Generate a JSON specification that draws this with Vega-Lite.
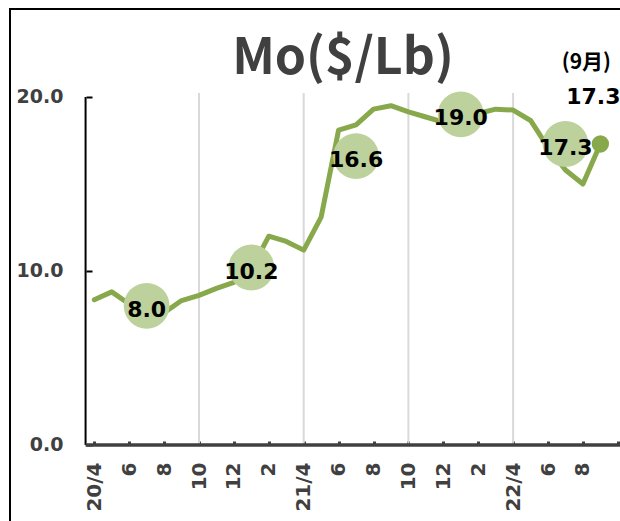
{
  "$schema": "https://vega.github.io/schema/vega-lite/v6.json",
  "width": 612,
  "height": 514,
  "autosize": {"type": "none"},
  "padding": {"left": 10, "top": 9, "right": -2, "bottom": -2},
  "background": "white",
  "title": {"text": "Mo($/Lb)", "font": "Noto Sans CJK JP", "fontSize": 50, "fontWeight": "bold", "color": "#404040", "anchor": "middle", "frame": "group", "offset": -68, "baseline": "alphabetic", "dx": 27, "dy": 47},
  "datasets": {
    "prices": [
      {"t": 0, "month": "2020-04", "price": 8.35},
      {"t": 1, "month": "2020-05", "price": 8.8},
      {"t": 2, "month": "2020-06", "price": 8.1},
      {"t": 3, "month": "2020-07", "price": 7.7, "avg": 8.0},
      {"t": 4, "month": "2020-08", "price": 7.6},
      {"t": 5, "month": "2020-09", "price": 8.3},
      {"t": 6, "month": "2020-10", "price": 8.6},
      {"t": 7, "month": "2020-11", "price": 9.0},
      {"t": 8, "month": "2020-12", "price": 9.35},
      {"t": 9, "month": "2021-01", "price": 10.1, "avg": 10.2},
      {"t": 10, "month": "2021-02", "price": 12.0},
      {"t": 11, "month": "2021-03", "price": 11.7},
      {"t": 12, "month": "2021-04", "price": 11.2},
      {"t": 13, "month": "2021-05", "price": 13.1},
      {"t": 14, "month": "2021-06", "price": 18.1},
      {"t": 15, "month": "2021-07", "price": 18.4, "avg": 16.6},
      {"t": 16, "month": "2021-08", "price": 19.3},
      {"t": 17, "month": "2021-09", "price": 19.5},
      {"t": 18, "month": "2021-10", "price": 19.15},
      {"t": 19, "month": "2021-11", "price": 18.85},
      {"t": 20, "month": "2021-12", "price": 18.55},
      {"t": 21, "month": "2022-01", "price": 18.8, "avg": 19.0},
      {"t": 22, "month": "2022-02", "price": 19.05},
      {"t": 23, "month": "2022-03", "price": 19.3},
      {"t": 24, "month": "2022-04", "price": 19.25},
      {"t": 25, "month": "2022-05", "price": 18.65},
      {"t": 26, "month": "2022-06", "price": 17.1},
      {"t": 27, "month": "2022-07", "price": 15.8, "avg": 17.3},
      {"t": 28, "month": "2022-08", "price": 15.0},
      {"t": 29, "month": "2022-09", "price": 17.3}
    ],
    "grid": [{"t": 6}, {"t": 12}, {"t": 18}, {"t": 24}],
    "axisline": [{"x0": -0.5, "x1": 31, "y0": 0, "y1": 20}]
  },
  "data": {"name": "prices"},
  "layer": [
    {
      "data": {"name": "grid"},
      "mark": {"type": "rule", "color": "#d9d9d9", "strokeWidth": 2},
      "encoding": {
        "x": {"field": "t", "type": "quantitative", "title": null},
        "y": {"datum": 0, "type": "quantitative", "title": null},
        "y2": {"datum": 20.23}
      }
    },
    {
      "mark": {"type": "line", "color": "#88a84c", "strokeWidth": 5, "strokeCap": "round", "strokeJoin": "round"},
      "encoding": {
        "x": {
          "field": "t", "type": "quantitative",
          "scale": {"domain": [-4.831, 30.24], "nice": false, "zero": false},
          "axis": {
            "orient": "bottom", "offset": -78, "title": null,
            "values": [0,1,2,3,4,5,6,7,8,9,10,11,12,13,14,15,16,17,18,19,20,21,22,23,24,25,26,27,28,29,30],
            "domain": false, "grid": false,
            "tickSize": -4, "tickWidth": 3, "tickColor": "#404040",
            "labelAngle": -90, "labelAlign": "right", "labelBaseline": "middle",
            "labelPadding": 21, "labelFont": "DejaVu Sans", "labelFontSize": 20, "labelFontWeight": "bold", "labelColor": "#404040",
            "labelFlush": false, "labelOverlap": false, "labelBound": false,
            "labelExpr": "datum.value % 2 == 0 && datum.value <= 28 ? (datum.value % 12 == 0 ? (20 + floor((datum.value + 3) / 12)) + '/4' : '' + ((datum.value + 3) % 12 + 1)) : ''"
          }
        },
        "y": {
          "field": "price", "type": "quantitative",
          "scale": {"domain": [-4.483, 25.057], "nice": false, "zero": false},
          "axis": {
            "offset": -76, "title": null, "values": [0, 10, 20],
            "domain": false, "grid": false,
            "tickSize": -6, "tickWidth": 2, "tickColor": "black",
            "format": ".1f", "labelPadding": 29,
            "labelFont": "DejaVu Sans", "labelFontSize": 19, "labelFontWeight": "bold", "labelColor": "#404040",
            "labelFlush": false, "labelOverlap": false
          }
        }
      }
    },
    {
      "transform": [{"filter": "isValid(datum.avg)"}],
      "mark": {"type": "point", "filled": true, "color": "#bcd19c", "size": 2100, "opacity": 1},
      "encoding": {
        "x": {"field": "t", "type": "quantitative", "title": null},
        "y": {"field": "avg", "type": "quantitative", "title": null}
      }
    },
    {
      "transform": [{"filter": "isValid(datum.avg)"}],
      "mark": {"type": "text", "font": "DejaVu Sans", "fontSize": 22, "fontWeight": "bold", "color": "black", "dy": 4},
      "encoding": {
        "x": {"field": "t", "type": "quantitative", "title": null},
        "y": {"field": "avg", "type": "quantitative", "title": null},
        "text": {"field": "avg", "type": "quantitative", "format": ".1f"}
      }
    },
    {
      "transform": [{"filter": "datum.t == 29"}],
      "mark": {"type": "point", "filled": true, "color": "#88a84c", "size": 300, "opacity": 1},
      "encoding": {
        "x": {"field": "t", "type": "quantitative", "title": null},
        "y": {"field": "price", "type": "quantitative", "title": null}
      }
    },
    {
      "transform": [{"filter": "datum.t == 29"}],
      "mark": {"type": "text", "font": "DejaVu Sans", "fontSize": 22, "fontWeight": "bold", "color": "black", "dx": -7, "dy": -47},
      "encoding": {
        "x": {"field": "t", "type": "quantitative", "title": null},
        "y": {"field": "price", "type": "quantitative", "title": null},
        "text": {"field": "price", "type": "quantitative", "format": ".1f"}
      }
    },
    {
      "transform": [{"filter": "datum.t == 29"}],
      "mark": {"type": "text", "font": "Noto Sans CJK JP", "fontSize": 21, "fontWeight": "bold", "color": "black", "dx": -14, "dy": -81},
      "encoding": {
        "x": {"field": "t", "type": "quantitative", "title": null},
        "y": {"field": "price", "type": "quantitative", "title": null},
        "text": {"value": "(9月)"}
      }
    },
    {
      "data": {"name": "axisline"},
      "mark": {"type": "rule", "color": "black", "strokeWidth": 2},
      "encoding": {
        "x": {"field": "x0", "type": "quantitative", "title": null},
        "y": {"field": "y0", "type": "quantitative", "title": null},
        "y2": {"field": "y1"}
      }
    },
    {
      "data": {"name": "axisline"},
      "mark": {"type": "rule", "color": "#404040", "strokeWidth": 3.5},
      "encoding": {
        "x": {"field": "x0", "type": "quantitative", "title": null},
        "x2": {"field": "x1"},
        "y": {"field": "y0", "type": "quantitative", "title": null}
      }
    }
  ],
  "config": {
    "view": {"stroke": "black", "strokeWidth": 2}
  }
}
